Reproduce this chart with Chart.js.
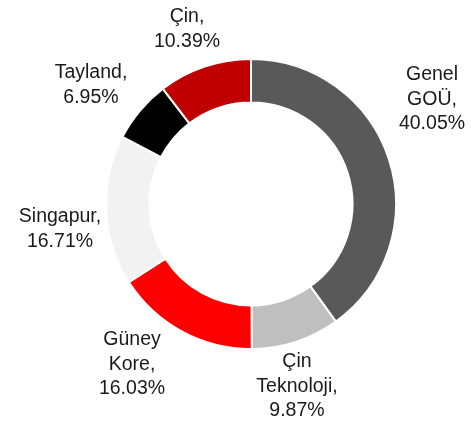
<!DOCTYPE html>
<html>
<head>
<meta charset="utf-8">
<script src="https://cdn.jsdelivr.net/npm/chart.js@4"></script>
<style>
    html, body { margin: 0; padding: 0; background: #fff; }
    #wrap { width: 474px; height: 421px; }
</style>
</head>
<body>
<div id="wrap"><canvas id="chartContainer" width="474" height="421"></canvas></div>
<script>
// values, clockwise from 12 o'clock
var categories = ["Genel GOÜ", "Çin Teknoloji", "Güney Kore", "Singapur", "Tayland", "Çin"];
var shares = [40.05, 9.87, 16.03, 16.71, 6.95, 10.39];
var labelLines = [
    ["Genel", "GOÜ,"],
    ["Çin", "Teknoloji,"],
    ["Güney", "Kore,"],
    ["Singapur,"],
    ["Tayland,"],
    ["Çin,"]
];
var sliceColors = ['#595959', '#BFBFBF', '#FF0000', '#F2F2F2', '#000000', '#C00000'];

// where the hand-placed labels sit (centre of first line)
var labelSpots = [
    [432, 75], [297, 362], [132, 340], [60, 217], [91, 73], [187, 17]
];

const outsideLabels = {
    id: 'outsideLabels',
    afterDraw: function(chart) {
        var ctx = chart.ctx;
        ctx.save();
        ctx.font = '19.5px "Liberation Sans", Arial, sans-serif';
        ctx.fillStyle = '#1a1a1a';
        ctx.textAlign = 'center';
        ctx.textBaseline = 'middle';
        chart.data.labels.forEach(function(lbl, i) {
            var lines = labelLines[i].concat([shares[i].toFixed(2) + '%']);
            var spot = labelSpots[i];
            lines.forEach(function(txt, j) {
                ctx.fillText(txt, spot[0], spot[1] + j * 24.5);
            });
        });
        ctx.restore();
    }
};

var share_chart;
var share_ctx = document.getElementById('chartContainer').getContext('2d');

function start_share_chart() {
    if (share_chart != null) {
        share_chart.destroy();
    }
    const cfg = {
        type: "doughnut",
        data: {
            labels: categories,
            datasets: [{
                data: shares,
                backgroundColor: sliceColors,
                borderColor: '#ffffff',
                borderWidth: 2,
                hoverOffset: 0
            }]
        },
        options: {
            responsive: false,
            animation: false,
            cutout: '70%',
            layout: {
                padding: { left: 105, right: 77, top: 58, bottom: 71 }
            },
            plugins: {
                legend: { display: false },
                tooltip: { enabled: false }
            }
        },
        plugins: [outsideLabels]
    };
    share_chart = new Chart(share_ctx, cfg);
}

start_share_chart();
</script>
</body>
</html>
